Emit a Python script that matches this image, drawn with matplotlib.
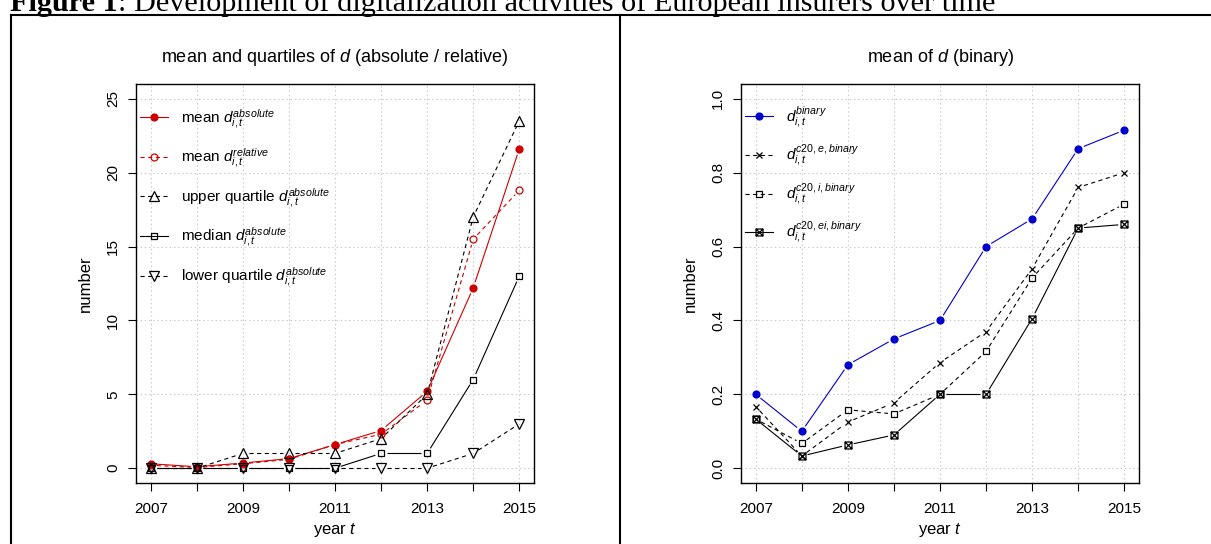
import numpy as np
import matplotlib
matplotlib.use('Agg')
import matplotlib.pyplot as plt
from matplotlib.path import Path
from matplotlib.collections import LineCollection
from matplotlib.lines import Line2D

plt.rcParams['font.family'] = 'Liberation Sans'
plt.rcParams['mathtext.fontset'] = 'custom'
plt.rcParams['mathtext.it'] = 'Liberation Sans:italic'
plt.rcParams['mathtext.rm'] = 'Liberation Sans'
plt.rcParams['mathtext.bf'] = 'Liberation Sans:bold'
plt.rcParams['lines.scale_dashes'] = False

years = np.arange(2007, 2016)

# left panel: d absolute / relative
mean_abs = [0.3, 0.1, 0.35, 0.65, 1.6, 2.55, 5.2, 12.2, 21.6]
mean_rel = [0.2, 0.05, 0.3, 0.6, 1.6, 2.3, 4.6, 15.5, 18.8]
upper_q = [0, 0, 1, 1, 1, 2, 5, 17, 23.5]
median = [0, 0, 0, 0, 0, 1, 1, 6, 13]
lower_q = [0, 0, 0, 0, 0, 0, 0, 1, 3]

# right panel: d binary
d_bin = [0.2, 0.1, 0.28, 0.35, 0.4, 0.6, 0.675, 0.865, 0.915]
d_e = [0.167, 0.033, 0.125, 0.177, 0.286, 0.37, 0.54, 0.76, 0.8]
d_i = [0.133, 0.067, 0.158, 0.147, 0.2, 0.316, 0.515, 0.65, 0.715]
d_ei = [0.133, 0.033, 0.063, 0.09, 0.2, 0.2, 0.405, 0.65, 0.66]

RED = '#CC0000'
BLUE = '#0000CC'
DASH = (0, (3, 2.5))
FS_TICK = 11
FS_LAB = 12
FS_TITLE = 13
FS_LEG = 11

# R pch=7: square with a cross
boxx = Path([(-1, -1), (1, -1), (1, 1), (-1, 1), (-1, -1),
             (-1, -1), (1, 1), (-1, 1), (1, -1)],
            [Path.MOVETO, Path.LINETO, Path.LINETO, Path.LINETO, Path.CLOSEPOLY,
             Path.MOVETO, Path.LINETO, Path.MOVETO, Path.LINETO])

W, H = 1211, 544
fig = plt.figure(figsize=(W / 100, H / 100), dpi=100)


def px_rect(l, t, r, b):
    return [l / W, 1 - b / H, (r - l) / W, (b - t) / H]


def style(ax, ylim, yticks, ylabels, title):
    ax.set_xlim(2006.68, 2015.32)
    ax.set_ylim(*ylim)
    ax.set_xticks(years)
    ax.set_xticklabels([str(y) if y % 2 else '' for y in years])
    ax.set_yticks(yticks)
    ax.set_yticklabels(ylabels, rotation=90, va='center')
    ax.tick_params(length=5.8, width=0.8, labelsize=FS_TICK, direction='out')
    ax.tick_params(axis='x', pad=8)
    ax.tick_params(axis='y', pad=5.5)
    ax.grid(True, color='#c8c8c8', lw=0.8, ls=(0, (1, 2)))
    ax.set_axisbelow(True)
    for s in ax.spines.values():
        s.set_linewidth(1.0)
    ax.set_title(title, fontsize=FS_TITLE, pad=16)
    ax.set_xlabel('year $t$', fontsize=FS_LAB)
    ax.xaxis.set_label_coords(0.5, -0.118)
    ax.xaxis.label.set_va('center')
    ax.set_ylabel('number', fontsize=FS_LAB)
    ax.yaxis.set_label_coords(-0.128, 0.5)
    ax.yaxis.label.set_va('center')


def gap_line(ax, x, y, color, ls, gap=6, lw=0.8):
    # R type="b": segments stop short of the points
    pts = ax.transData.transform(np.column_stack([x, y]))
    inv = ax.transData.inverted()
    segs = []
    for p, q in zip(pts[:-1], pts[1:]):
        d = q - p
        L = np.hypot(*d)
        if L <= 2 * gap:
            continue
        u = d / L
        segs.append(inv.transform(np.array([p + u * gap, q - u * gap])))
    ax.add_collection(LineCollection(segs, colors=color, linestyles=ls, linewidths=lw, zorder=2))


def series(ax, y, color, ls, marker, ms, filled):
    mfc = color if filled else 'none'
    gap_line(ax, years, y, color, ls)
    ax.plot(years, y, ls='none', marker=marker, ms=ms, mfc=mfc, mec=color, mew=0.9, zorder=3)
    return Line2D([], [], color=color, ls=ls, lw=0.8, marker=marker, ms=ms, mfc=mfc, mec=color, mew=0.9)


axL = fig.add_axes(px_rect(136, 84, 534, 483))
axR = fig.add_axes(px_rect(741, 84, 1139, 483))
style(axL, (-1, 26), [0, 5, 10, 15, 20, 25], ['0', '5', '10', '15', '20', '25'],
      'mean and quartiles of $d$ (absolute / relative)')
style(axR, (-0.04, 1.04), [0, 0.2, 0.4, 0.6, 0.8, 1.0], ['0.0', '0.2', '0.4', '0.6', '0.8', '1.0'],
      'mean of $d$ (binary)')

left_labels = ['mean $d_{i,t}^{absolute}$', 'mean $d_{i,t}^{relative}$',
               'upper quartile $d_{i,t}^{absolute}$', 'median $d_{i,t}^{absolute}$',
               'lower quartile $d_{i,t}^{absolute}$']
hl = [series(axL, mean_abs, RED, '-', 'o', 5, True),
      series(axL, mean_rel, RED, DASH, 'o', 5, False),
      series(axL, upper_q, 'black', DASH, '^', 6.5, False),
      series(axL, median, 'black', '-', 's', 5, False),
      series(axL, lower_q, 'black', DASH, 'v', 6.5, False)]

right_labels = ['$d_{i,t}^{binary}$', '$d_{i,t}^{c20,e,binary}$',
                '$d_{i,t}^{c20,i,binary}$', '$d_{i,t}^{c20,ei,binary}$']
hr = [series(axR, d_bin, BLUE, '-', 'o', 5, True),
      series(axR, d_e, 'black', DASH, 'x', 5, False),
      series(axR, d_i, 'black', DASH, 's', 5, False),
      series(axR, d_ei, 'black', '-', boxx, 5, False)]

for ax, h, lab, top, sp in ((axL, hl, left_labels, 107, 1.05), (axR, hr, right_labels, 104, 0.85)):
    ax.legend(h, lab, loc='upper left', bbox_to_anchor=(4 / 398, (483 - top) / 399),
              frameon=False, fontsize=FS_LEG, handlelength=1.83, handletextpad=0.85,
              labelspacing=sp, borderpad=0, borderaxespad=0)

# frame around the panels
kw = dict(color='black', lw=1.5, transform=fig.transFigure)
fig.add_artist(Line2D([11 / W, 11 / W], [0, 1 - 15 / H], **kw))
fig.add_artist(Line2D([11 / W, 1], [1 - 15 / H, 1 - 15 / H], **kw))
fig.add_artist(Line2D([620 / W, 620 / W], [0, 1 - 15 / H], **kw))

t1 = fig.text(10 / W, 1 - 11 / H, 'Figure 1', fontfamily='Liberation Serif',
              fontweight='bold', fontsize=21.8, va='baseline')
fig.canvas.draw()
bb = t1.get_window_extent()
fig.text(bb.x1 / W, 1 - 11 / H, ': Development of digitalization activities of European insurers over time',
         fontfamily='Liberation Serif', fontsize=21.8, va='baseline')

fig.savefig('out.png', dpi=100)
